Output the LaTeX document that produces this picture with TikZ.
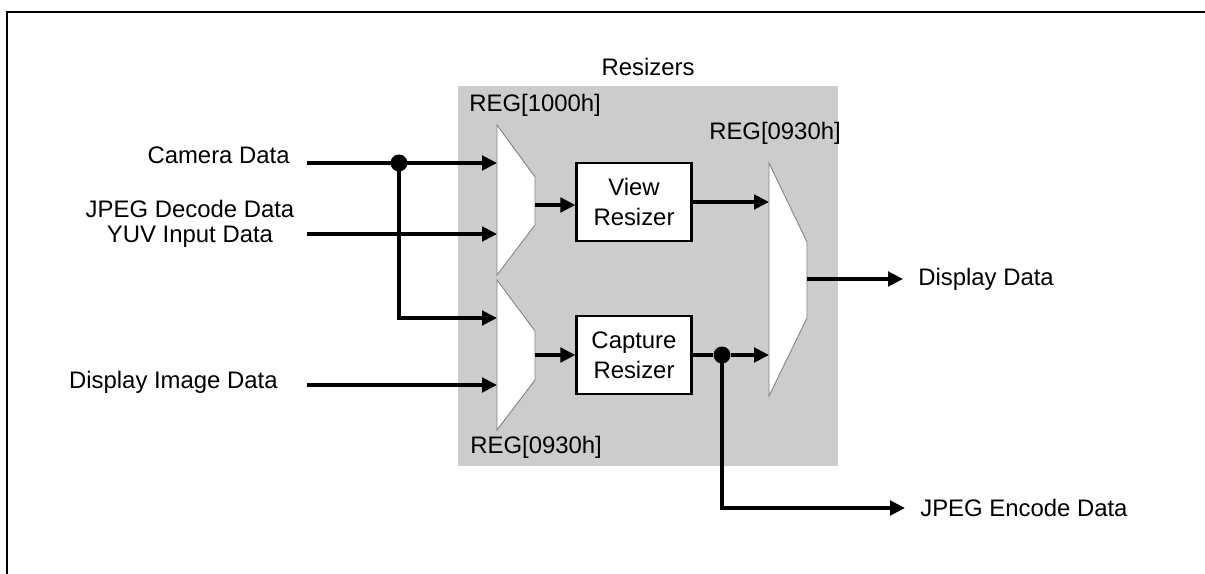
\documentclass[tikz,border=0pt]{standalone}
\usepackage{fontspec}
\setmainfont{Liberation Sans}
\usetikzlibrary{arrows.meta, positioning}
\definecolor{resizergray}{RGB}{204, 204, 204}
\definecolor{muxedge}{RGB}{130, 130, 130}

\begin{document}
\begin{tikzpicture}[
        x=0.02cm, y=-0.02cm,
        lbl/.style={inner sep=0pt, font=\fontsize{13.6}{16}\selectfont},
        region/.style={rectangle, fill=resizergray, minimum width=7.6cm, minimum height=7.6cm, inner sep=0pt},
        block/.style={rectangle, draw=black, line width=1.3pt, fill=white, minimum width=2.3cm, minimum height=1.56cm, align=center, font=\fontsize{13.6}{17}\selectfont},
        mux/.style={draw=muxedge, line width=0.5pt, fill=white},
        sig/.style={line width=2pt, -{Triangle[length=0.3cm, width=0.29cm]}},
        dot/.style={circle, fill=black, inner sep=0pt, minimum size=0.34cm},
        frame/.style={line width=1.5pt},
    ]
    \useasboundingbox (0,0) rectangle (1205,574);

    % Rahmen
    \draw[frame] (7,574) -- (7,12) -- (1205,12);

    % Resizers
    \node[region] (resz) at (648,276) {};
    \node[lbl, above=0.2cm of resz] (reszlbl) {Resizers};

    % Multiplexer
    \draw[mux] (497,125) -- (535,177) -- (535,225) -- (497,275) -- cycle;
    \draw[mux] (497,280) -- (535,331) -- (535,380) -- (497,430) -- cycle;
    \draw[mux] (769,163) -- (807,242) -- (807,318) -- (769,396) -- cycle;
    \coordinate (m1in1) at (497,163);
    \coordinate (m1in2) at (497,234);
    \coordinate (m1out) at (535,205);
    \coordinate (m2in1) at (497,318);
    \coordinate (m2in2) at (497,385);
    \coordinate (m2out) at (535,355);
    \coordinate (m3in) at (769,0);
    \coordinate (m3out) at (807,279);

    \node[lbl, anchor=west] (reg1000) at (469,105) {REG[1000h]};
    \node[lbl] (reg0930a) at (775,133) {REG[0930h]};
    \node[lbl, anchor=west] (reg0930b) at (470,447) {REG[0930h]};

    % Resizer
    \node[block] (view) at (634,202) {View\\Resizer};
    \node[block, below=1.46cm of view] (capture) {Capture\\Resizer};

    % Eingaenge
    \node[lbl, anchor=east] (camlbl) at (290,155) {Camera Data};
    \node[lbl, align=center, font=\fontsize{13.6}{14.2}\selectfont] (jpeglbl) at (190,224) {JPEG Decode Data\\YUV Input Data};
    \node[lbl, anchor=east] (displbl) at (278,382) {Display Image Data};
    \coordinate (camin) at (307,163);
    \coordinate (yuvin) at (307,234);
    \coordinate (dispin) at (307,385);
    \node[dot] (j1) at (399,163) {};

    % Ausgaenge
    \node[dot] (j2) at (722,355) {};
    \coordinate (dispout) at (903,279);
    \coordinate (encout) at (905,508);
    \node[lbl, right=0.3cm of dispout] (dispdata) {Display Data};
    \node[lbl, right=0.3cm of encout] (encdata) {JPEG Encode Data};

    % Verbindungen
    \draw[sig] (camin) -- (m1in1);
    \draw[sig] (yuvin) -- (m1in2);
    \draw[sig] (j1.center) |- (m2in1);
    \draw[sig] (dispin) -- (m2in2);
    \draw[sig] (m1out) -- (m1out -| view.west);
    \draw[sig] (m2out) -- (m2out -| capture.west);
    \draw[sig] (view.east) -- (view.east -| m3in);
    \draw[line width=2pt] (capture.east |- j2) -- (j2);
    \draw[sig] (j2) -- (j2 -| m3in);
    \draw[sig] (m3out) -- (dispout);
    \draw[sig] (j2.center) |- (encout);

\end{tikzpicture}
\end{document}
